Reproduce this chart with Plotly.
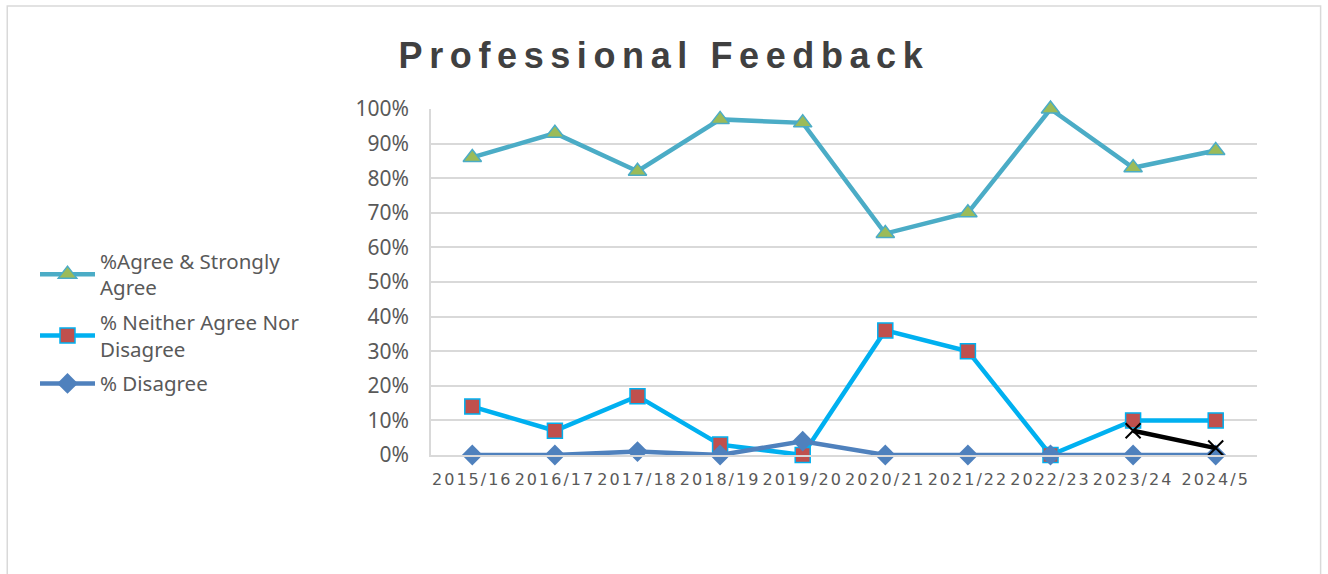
import plotly.graph_objects as go

years = ['2015/16', '2016/17', '2017/18', '2018/19', '2019/20',
         '2020/21', '2021/22', '2022/23', '2023/24', '2024/5']
agree = [0.86, 0.93, 0.82, 0.97, 0.96, 0.64, 0.70, 1.00, 0.83, 0.88]
neither = [0.14, 0.07, 0.17, 0.03, 0.00, 0.36, 0.30, 0.00, 0.10, 0.10]
disagree = [0.00, 0.00, 0.01, 0.00, 0.04, 0.00, 0.00, 0.00, 0.00, 0.00]
extra = [None, None, None, None, None, None, None, None, 0.07, 0.02]
y_ticks = [i / 10 for i in range(11)]

GREY = '#595959'
GRID = '#d9d9d9'

fig = go.Figure()
fig.add_trace(go.Scatter(
    x=years, y=agree, name='%Agree & Strongly<br>Agree', mode='lines+markers', cliponaxis=False,
    legendgroup='a',
    line=dict(color='#4bacc6', width=4.5),
    marker=dict(symbol='triangle-up', size=16, color='#9bbb59', line=dict(color='#4bacc6', width=1.5)),
))
fig.add_trace(go.Scatter(
    x=years, y=neither, name='% Neither Agree Nor<br>Disagree', mode='lines+markers', cliponaxis=False,
    legendgroup='b',
    line=dict(color='#00b0f0', width=4.5),
    marker=dict(symbol='square', size=15, color='#c0504d', line=dict(color='#00b0f0', width=1.5)),
))
fig.add_trace(go.Scatter(
    x=years, y=disagree, name='% Disagree', mode='lines+markers', cliponaxis=False,
    legendgroup='c',
    line=dict(color='#4f81bd', width=4.5),
    marker=dict(symbol='diamond', size=16, color='#4f81bd'),
))
fig.add_trace(go.Scatter(
    x=years, y=extra, name='', mode='lines+markers', showlegend=False, cliponaxis=False,
    legendgroup='d',
    line=dict(color='black', width=4.5),
    marker=dict(symbol='x-thin', size=15, line=dict(color='black', width=2)),
))

# outer chart border
fig.add_shape(type='rect', xref='paper', yref='paper', x0=-0.513, x1=1.077, y0=-0.6, y1=1.298,
              line=dict(color=GRID, width=1.5), fillcolor='rgba(0,0,0,0)', layer='below')

fig.update_layout(
    width=1328, height=574,
    paper_bgcolor='white', plot_bgcolor='white',
    margin=dict(l=431, r=71, t=109, b=119),
    font=dict(family='Noto Sans, sans-serif', color=GREY),
    title=dict(
        text='<span style="letter-spacing:6.6px">Professional Feedback</span>',
        x=0.5, xref='container', y=1 - 55 / 574, yref='container', yanchor='middle',
        font=dict(size=36, family='Liberation Sans, Arial, sans-serif', color='#404040', weight='bold'),
    ),
    legend=dict(
        xref='container', yref='container', x=35 / 1328, y=1 - 241 / 574,
        xanchor='left', yanchor='top', font=dict(size=20.5, color=GREY),
        itemwidth=55, tracegroupgap=5, bgcolor='rgba(0,0,0,0)',
    ),
    xaxis=dict(
        tickmode='array', tickvals=years, tickangle=0, range=[-0.5, 9.5],
        ticktext=[f'<span style="letter-spacing:2px">{y}</span>' for y in years],
        tickfont=dict(size=16, family='DejaVu Sans, sans-serif', color=GREY),
        ticklabelstandoff=9,
        showgrid=False, showline=True, linecolor=GRID, linewidth=1.5, ticks='',
    ),
    yaxis=dict(
        range=[0, 1.0], tickvals=y_ticks, tickformat='.0%',
        tickfont=dict(size=21, color=GREY), ticklabelstandoff=16,
        showgrid=True, gridcolor=GRID, gridwidth=1.5,
        showline=True, linecolor=GRID, linewidth=1.5, zeroline=False, ticks='',
    ),
    showlegend=True,
)

fig.write_html('out.html', config={'displayModeBar': False},
               post_script="document.body.style.margin='0';")
